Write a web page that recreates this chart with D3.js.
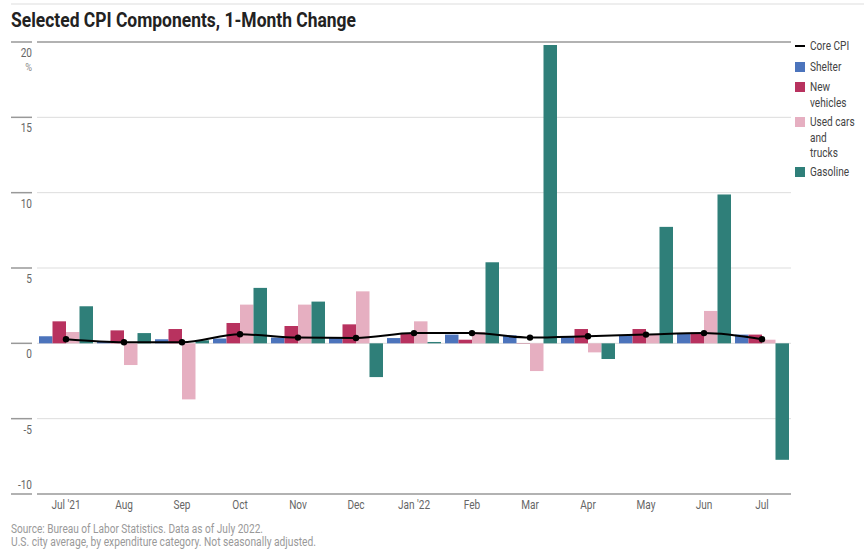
<!DOCTYPE html>
<html>
<head>
<meta charset="utf-8">
<script src="https://cdn.jsdelivr.net/npm/d3@7"></script>
<style>
  body { margin: 0; background: #fff; }
  svg { display: block; }
  text { font-family: "Roboto", "Liberation Sans", sans-serif; }
</style>
</head>
<body>
<svg id="chart" width="864" height="557"></svg>
<script>
// data (percent, 1-month change)
const months = ["Jul '21", "Aug", "Sep", "Oct", "Nov", "Dec", "Jan '22", "Feb", "Mar", "Apr", "May", "Jun", "Jul"];
const shelter  = [0.47, 0.15, 0.27, 0.32, 0.38, 0.35, 0.35, 0.58, 0.53, 0.42, 0.51, 0.64, 0.58];
const newVeh   = [1.46, 0.86, 0.95, 1.35, 1.15, 1.26, 0.64, 0.24, 0.02, 0.95, 0.95, 0.71, 0.58];
const usedCars = [0.75, -1.44, -3.72, 2.57, 2.57, 3.45, 1.46, 0.75, -1.84, -0.6, 0.58, 2.15, 0.24];
const gasoline = [2.46, 0.68, 0.2, 3.68, 2.77, -2.24, 0.09, 5.38, 19.8, -1.04, 7.73, 9.88, -7.73];
const coreCPI  = [0.27, 0.07, 0.07, 0.6, 0.38, 0.35, 0.68, 0.68, 0.38, 0.47, 0.58, 0.68, 0.27];
const yTicks = [20, 15, 10, 5, 0, -5, -10];

const seriesNames = ["Shelter", "New vehicles", "Used cars and trucks", "Gasoline"];
const seriesVals = [shelter, newVeh, usedCars, gasoline];
const colors = ["#4c74bc", "#b8325f", "#e6afc1", "#2f7f79"];

const svg = d3.select("#chart");

// narrow text: no condensed face installed, so squeeze horizontally
function label(px, py, str, size, fill, anchor) {
  return svg.append("text")
    .attr("transform", "translate(" + px + "," + py + ") scale(0.84,1)")
    .attr("text-anchor", anchor || "start")
    .style("font-size", size + "px").style("fill", fill)
    .text(str);
}

const x = d3.scaleBand().domain(months).range([37, 791]).paddingInner(0).paddingOuter(0);
const xs = d3.scaleBand().domain(d3.range(4)).range([2, x.bandwidth() - 2]).padding(0);
const y = d3.scaleLinear().domain([-10, 20]).range([494, 42]);

// top rule
svg.append("line").attr("x1", 11).attr("x2", 864).attr("y1", 4).attr("y2", 4)
  .style("stroke", "#ddd");

svg.append("text").attr("x", 11).attr("y", 27)
  .attr("textLength", 345).attr("lengthAdjust", "spacingAndGlyphs")
  .style("font-size", "21px").style("font-weight", "bold").style("fill", "#222")
  .text("Selected CPI Components, 1-Month Change");

// grid + left ticks
yTicks.forEach(t => {
  const edge = t == 20 || t == -10;
  svg.append("line").attr("x1", 37).attr("x2", 791).attr("y1", y(t)).attr("y2", y(t))
    .style("stroke", edge ? "#999" : "#ddd").style("stroke-width", edge ? 1.5 : 1);
  svg.append("line").attr("x1", 11).attr("x2", 32).attr("y1", y(t)).attr("y2", y(t))
    .style("stroke", "#999").style("stroke-width", 1.5);
  // bottom label sits above its line
  label(32, t == -10 ? y(t) - 5 : y(t) + 15, t, 12, "#666", "end");
});
label(32, y(20) + 29, "%", 11, "#888", "end");

// bars
seriesVals.forEach((vals, s) => {
  svg.append("g").selectAll("rect").data(vals).enter().append("rect")
    .attr("x", (d, i) => x(months[i]) + xs(s))
    .attr("width", xs.bandwidth())
    .attr("y", d => y(Math.max(0, d)))
    .attr("height", d => Math.abs(y(d) - y(0)))
    .style("fill", colors[s]);
});

// core CPI line
const line = d3.line()
  .x((d, i) => x(months[i]) + x.bandwidth() / 2)
  .y(d => y(d))
  .curve(d3.curveMonotoneX);
svg.append("path").datum(coreCPI).attr("d", line)
  .style("fill", "none").style("stroke", "#000").style("stroke-width", 2);
svg.append("g").selectAll("circle").data(coreCPI).enter().append("circle")
  .attr("cx", (d, i) => x(months[i]) + x.bandwidth() / 2)
  .attr("cy", d => y(d)).attr("r", 3.2).style("fill", "#000");

// x labels
months.forEach(m => label(x(m) + x.bandwidth() / 2, 509, m, 12, "#666", "middle"));

// legend
const lx = 795;
svg.append("line").attr("x1", lx).attr("x2", lx + 10).attr("y1", 46).attr("y2", 46)
  .style("stroke", "#000").style("stroke-width", 2);
label(lx + 15, 50, "Core CPI", 12, "#444");
const legendRows = [["Shelter"], ["New", "vehicles"], ["Used cars", "and", "trucks"], ["Gasoline"]];
const legendY = [67, 87, 122, 172];
legendRows.forEach((lines, s) => {
  svg.append("rect").attr("x", lx).attr("y", legendY[s] - 5).attr("width", 10).attr("height", 10)
    .style("fill", colors[s]);
  lines.forEach((ln, k) => label(lx + 15, legendY[s] + 4 + k * 15.5, ln, 12, "#444"));
});

// footer
svg.append("text").attr("x", 11).attr("y", 533)
  .attr("textLength", 252).attr("lengthAdjust", "spacingAndGlyphs")
  .style("font-size", "12px").style("fill", "#999")
  .text("Source: Bureau of Labor Statistics. Data as of July 2022.");
svg.append("text").attr("x", 11).attr("y", 546)
  .attr("textLength", 305).attr("lengthAdjust", "spacingAndGlyphs")
  .style("font-size", "12px").style("fill", "#999")
  .text("U.S. city average, by expenditure category. Not seasonally adjusted.");
</script>
</body>
</html>
